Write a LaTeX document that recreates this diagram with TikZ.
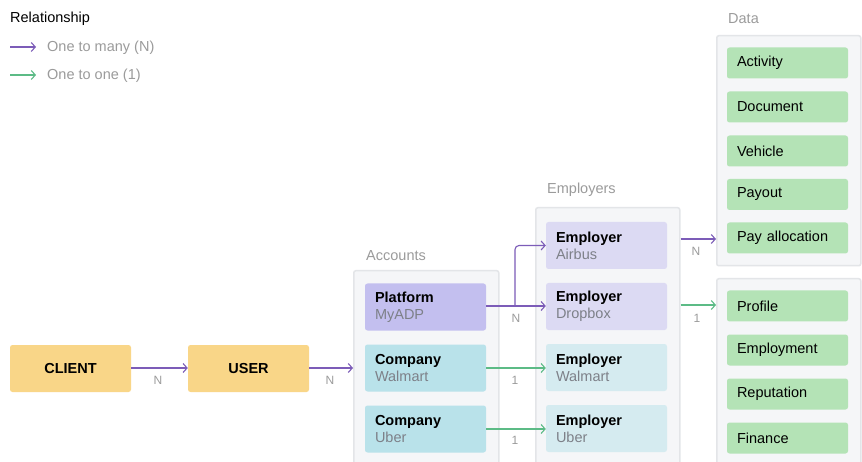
\documentclass[tikz,border=0pt]{standalone}
\usepackage{fontspec}
\setmainfont{Liberation Sans}
\usetikzlibrary{arrows.meta}
\definecolor{many}{HTML}{7C5CB8}
\definecolor{one}{HTML}{5CBB86}
\definecolor{muted}{HTML}{9B9B9B}
\definecolor{subtext}{HTML}{7D8088}
\definecolor{panelfill}{HTML}{F5F6F8}
\definecolor{panelline}{HTML}{E3E5E8}
\definecolor{yellowbox}{HTML}{F9D688}
\definecolor{platformbox}{HTML}{C3BFEF}
\definecolor{companybox}{HTML}{B9E2EA}
\definecolor{emplavender}{HTML}{DCDAF3}
\definecolor{empcyan}{HTML}{D5EBF0}
\definecolor{databox}{HTML}{B4E3B6}
\tikzset{
  txt/.style={font=\fontsize{14.5}{17}\selectfont},
  heading/.style={txt, text=muted, anchor=west, inner sep=0pt},
  panel/.style={draw=panelline, line width=1.5pt, fill=panelfill, rounded corners=2pt, anchor=north west, inner sep=0pt},
  card/.style={txt, rounded corners=2.5pt, minimum width=121pt, minimum height=47pt,
    text width=101pt, align=left, inner xsep=10pt, inner ysep=0pt},
  endpoint/.style={card, align=center, font=\fontsize{14.5}{17}\selectfont\bfseries},
  datacard/.style={txt, fill=databox, rounded corners=2.5pt, minimum width=121pt, minimum height=31pt,
    text width=101pt, align=left, inner xsep=10pt, inner ysep=0pt},
  rel/.style={line width=1.1pt, -{Straight Barb[length=4pt,width=9pt]}},
  manyrel/.style={rel, draw=many},
  onerel/.style={rel, draw=one},
  lbl/.style={font=\fontsize{12}{14}\selectfont, text=muted, inner sep=0pt},
}
\newcommand{\cardtext}[2]{{\bfseries #1}\\{\color{subtext}#2}}
\begin{document}
\begin{tikzpicture}[x=1pt,y=-1pt]
\useasboundingbox (0,0) rectangle (862,462);
\clip (0,0) rectangle (862,462);
\fill[white] (0,0) rectangle (862,462);

% legend
\node[txt, anchor=west, inner sep=0pt] (legendtitle) at (10,18.5) {Relationship};
\coordinate (lm1) at (10,47);
\coordinate (lm2) at (36,47);
\draw[manyrel] (lm1) -- (lm2);
\node[heading] (lmt) at (47,47.5) {One to many (N)};
\coordinate (lo1) at (10,75);
\coordinate (lo2) at (36,75);
\draw[onerel] (lo1) -- (lo2);
\node[heading] (lot) at (47,75.5) {One to one (1)};

% panels
\node[panel, minimum width=145pt, minimum height=200pt] (accounts) at (353,270) {};
\node[heading] (accountstitle) at (366,255.5) {Accounts};
\node[panel, minimum width=144pt, minimum height=265pt] (employers) at (535,207) {};
\node[heading] (employerstitle) at (547,189.5) {Employers};
\node[panel, minimum width=144pt, minimum height=230pt] (data1) at (716,35) {};
\node[heading] (datatitle) at (728,18.5) {Data};
\node[panel, minimum width=144pt, minimum height=200pt] (data2) at (716,278) {};

% client and user
\node[endpoint, fill=yellowbox] (client) at (70.5,368.5) {CLIENT};
\node[endpoint, fill=yellowbox] (user) at (248.5,368.5) {USER};

% accounts
\node[card, fill=platformbox] (platform) at (425.5,307) {\cardtext{Platform}{MyADP}};
\node[card, fill=companybox] (cwalmart) at (425.5,368) {\cardtext{Company}{Walmart}};
\node[card, fill=companybox] (cuber) at (425.5,429) {\cardtext{Company}{Uber}};

% employers
\node[card, fill=emplavender] (airbus) at (606.5,245.5) {\cardtext{Employer}{Airbus}};
\node[card, fill=emplavender] (dropbox) at (606.5,306.5) {\cardtext{Employer}{Dropbox}};
\node[card, fill=empcyan] (ewalmart) at (606.5,367.5) {\cardtext{Employer}{Walmart}};
\node[card, fill=empcyan] (euber) at (606.5,428.5) {\cardtext{Employer}{Uber}};

% data
\node[datacard] (activity) at (787.5,63) {Activity};
\node[datacard] (document) at (787.5,107) {Document};
\node[datacard] (vehicle) at (787.5,151) {Vehicle};
\node[datacard] (payout) at (787.5,194.5) {Payout};
\node[datacard] (payalloc) at (787.5,238) {Pay allocation};
\node[datacard] (profile) at (787.5,306) {Profile};
\node[datacard] (employment) at (787.5,350) {Employment};
\node[datacard] (reputation) at (787.5,394) {Reputation};
\node[datacard] (finance) at (787.5,438) {Finance};

% relations
\coordinate (clientout) at (client.east |- 0,368);
\draw[manyrel] (clientout) -- (clientout -| user.west);
\node[lbl] (lcu) at (158,380) {N};
\coordinate (userout) at (user.east |- 0,368);
\draw[manyrel] (userout) -- (userout -| accounts.west);
\node[lbl] (lua) at (330,380) {N};

\coordinate (platformout) at (platform.east |- 0,306);
\draw[manyrel] (platformout) -- (platformout -| dropbox.west);
\coordinate (branch) at (515,306);
\draw[manyrel, rounded corners=4pt] (branch) |- (airbus.west);
\node[lbl] (lpd) at (516,318) {N};

\draw[onerel] (cwalmart.east) -- (cwalmart.east -| ewalmart.west);
\node[lbl] (lww) at (515,380) {1};
\draw[onerel] (cuber.east) -- (cuber.east -| euber.west);
\node[lbl] (luu) at (515,440) {1};

\coordinate (airbusout) at (employers.east |- 0,239);
\draw[manyrel] (airbusout) -- (airbusout -| data1.west);
\node[lbl] (lad) at (696,251) {N};
\coordinate (dropboxout) at (employers.east |- 0,305);
\draw[onerel] (dropboxout) -- (dropboxout -| data2.west);
\node[lbl] (ldd) at (697,318) {1};
\end{tikzpicture}
\end{document}
